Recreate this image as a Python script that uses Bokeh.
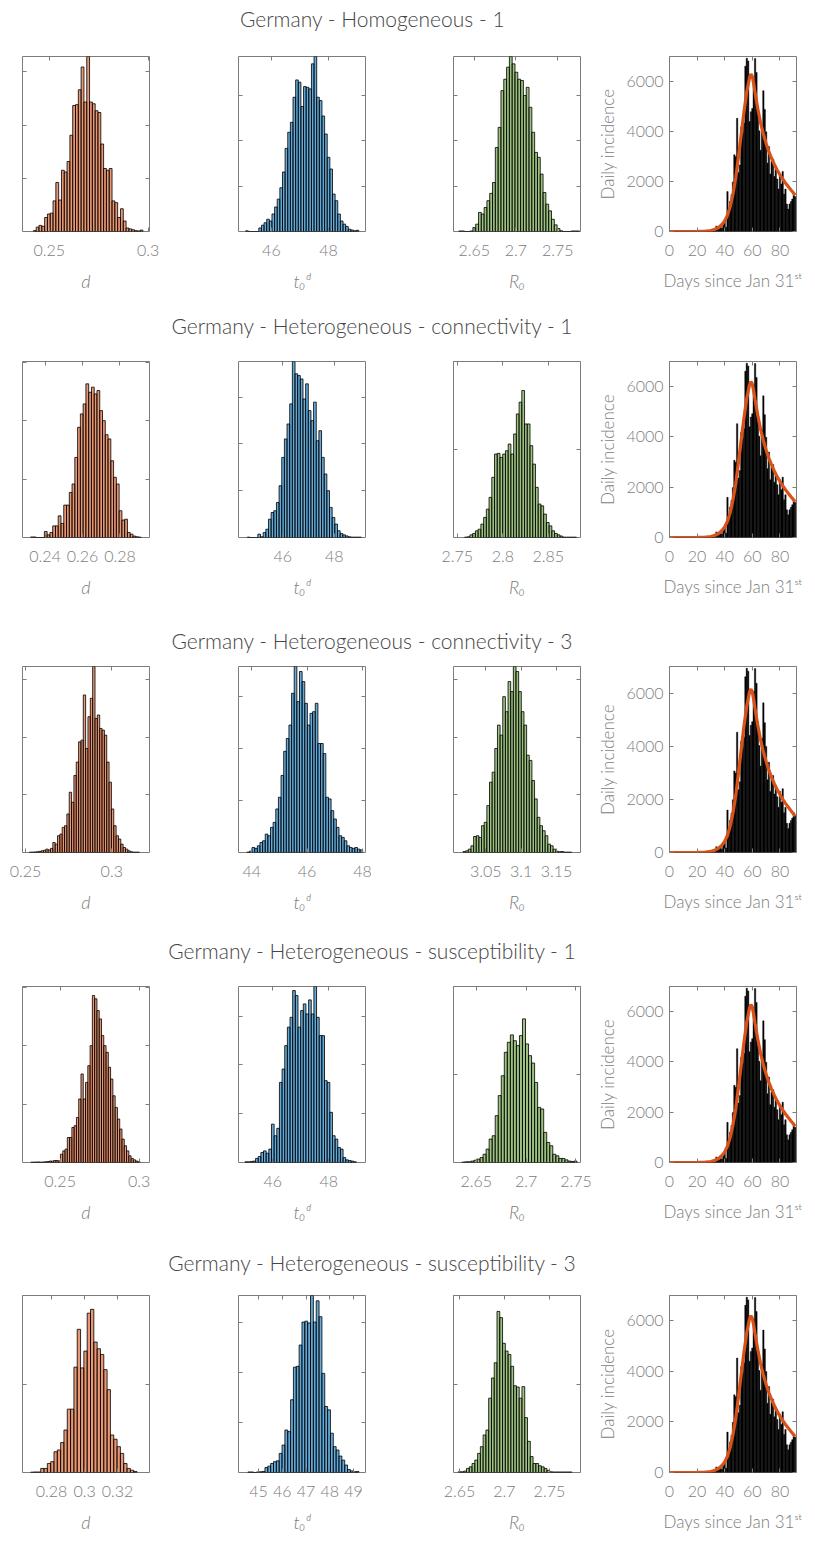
from bokeh.plotting import figure
from bokeh.layouts import column, row
from bokeh.models import Range1d, FixedTicker, LinearAxis
from bokeh.embed import file_html
from bokeh.resources import INLINE
from bokeh.core.properties import value

# ---------------- data ----------------
titles = [
    "Germany - Homogeneous - 1",
    "Germany - Heterogeneous - connectivity - 1",
    "Germany - Heterogeneous - connectivity - 3",
    "Germany - Heterogeneous - susceptibility - 1",
    "Germany - Heterogeneous - susceptibility - 3",
]

# histogram of d (bin start, bin width, heights in % of axis height)
d_start = [0.2420, 0.2322, 0.2522, 0.2315, 0.2674]
d_width = [0.00142, 0.00148, 0.00136, 0.00144, 0.00201]
d_h1 = [0.5, 2.5, 3.5, 3, 8, 10, 10.5, 17.5, 28, 18, 35, 34, 40, 55, 72, 72.5, 81, 94, 74, 100,
        74, 73, 69, 68, 50, 36, 35, 36, 17.5, 16.5, 8, 13, 6, 2, 1.5, 1, 0.5, 0.3, 0.8]
d_h2 = [0.3, 0.3, 0, 0, 0, 3.4, 1.5, 2.8, 6.6, 6.6, 12.3, 8, 18.4, 18.4, 25.6, 30.4, 45.5, 62.6,
        70.2, 75.9, 87.3, 82.5, 85.4, 81.6, 83.5, 72.1, 66.4, 58.4, 56, 43.6, 34.2, 30.4, 15.2,
        9.9, 10.4, 2.8, 1.9, 0.8, 0.4, 0.2]
d_h3 = [0.2, 0.2, 0.3, 0.4, 0.6, 0.9, 1.2, 1.8, 1.4, 2.2, 5.4, 4.5, 9, 9.9, 13.5, 14.4, 20.7,
        32.4, 27, 41.4, 48.6, 59.5, 60.4, 84.7, 55.9, 73, 82.9, 100, 72.1, 73.9, 66.7, 65.8,
        63.1, 48.6, 37.8, 23.4, 14.4, 9, 7.2, 4.5, 2.7, 1.8, 0.9, 0.4, 0.2, 0.2, 0.2]
d_h4 = [0.2, 0.2, 0.3, 0.3, 0.2, 0.3, 0.4, 0.5, 0.8, 0.8, 1.1, 1.1, 0.9, 4.7, 6.6, 7.6, 14.2,
        14.2, 19.9, 20.9, 25.6, 36.1, 50.3, 36.1, 45.5, 55, 66.4, 94.9, 93, 86.3, 81.6, 72.1,
        66.4, 62.6, 54.1, 47.4, 37.9, 31.3, 24.7, 19, 13.3, 9.5, 6.6, 3.8, 2.3, 1.5, 0.8, 0.4]
d_h5 = [0.2, 0.3, 0.3, 2.3, 2.3, 5.1, 6.1, 11.7, 12.7, 16.9, 24, 35.8, 35.8, 59.5, 80.9, 59.1,
        68.6, 90, 92.2, 73.7, 69.9, 66.7, 58.1, 46.8, 21.2, 18.8, 14.6, 10.8, 5.1, 2.3, 1.3, 0.6]
d_heights = [d_h1, d_h2, d_h3, d_h4, d_h5]

# histogram of t0^d
t0_start = [45.10, 44.62, 43.82, 45.01, 44.55]
t0_width = [0.092, 0.103, 0.0952, 0.0946, 0.12]
t0_h1 = [0.4, 0, 0, 0, 0, 2, 3.6, 5, 7, 6, 10, 14, 18.5, 25, 34, 47.5, 56.7, 62.4, 76.7, 86.6,
         85.3, 71.4, 82.8, 82.4, 81.5, 95.8, 100, 76.7, 74.8, 66, 55.7, 42.4, 35.7, 21.4, 17.6,
         10, 6, 4.2, 2.9, 1.3, 0.8, 0.4, 0.7]
t0_h2 = [0.2, 0, 0, 0, 1.9, 0.4, 2.8, 4.7, 10.4, 14.2, 15.2, 19.9, 29.4, 45.5, 56, 64.5, 75.9,
         100, 93, 92, 90.1, 78.7, 87.3, 72.1, 66.4, 76.9, 55, 60.7, 45.5, 36.1, 26.6, 17.1, 11.4,
         7.6, 3.8, 2.3, 1.5, 0.9, 0.4, 0.2, 0.2, 0.2, 0.2]
t0_h3 = [0.2, 0.7, 2.7, 2.2, 3.6, 5.4, 6.3, 9.9, 9, 13.5, 16.2, 23.4, 29.7, 41.4, 54.4, 61.3,
         68.5, 85.6, 100, 81.1, 97.3, 91.9, 80.2, 68.5, 74.8, 75.7, 80.2, 58.6, 58.6, 53.2, 29.7,
         28.8, 22.5, 18, 13.5, 9, 8.1, 6.3, 3.6, 2.7, 2.2, 2.7, 1.8, 1.4]
t0_h4 = [0.4, 0.4, 0.6, 0.8, 2.3, 3.4, 5.7, 6.6, 5.3, 7.6, 21.8, 15.2, 19.4, 45.5, 53.1, 66.4,
         76.9, 82.5, 97.7, 94.9, 76.9, 86.3, 90.1, 84.4, 92.4, 84.4, 100, 82.5, 72.1, 72.1, 46.5,
         45.5, 28.5, 15.2, 13.3, 8.5, 7.6, 2.8, 1.5, 1.1, 0.8, 0.4]
t0_h5 = [0.3, 0.3, 0, 0.3, 0.4, 0.6, 2.8, 3.6, 5.1, 6.1, 6.6, 10.8, 15.5, 24, 23.1, 41.1, 59.5,
         60, 72, 85, 85.5, 84.5, 100, 85, 97, 88, 56, 37.3, 35.4, 22.2, 14.6, 12.7, 9.3, 7, 4.2,
         1.7, 0.9, 0.4, 0.6]
t0_heights = [t0_h1, t0_h2, t0_h3, t0_h4, t0_h5]

# histogram of R0
r0_start = [2.6316, 2.7579, 3.0179, 2.6356, 2.6485]
r0_width = [0.00336, 0.0030, 0.00374, 0.00304, 0.003086]
r0_h1 = [0.3, 0.3, 0, 0, 0.3, 2.3, 4.2, 10.9, 10, 13.7, 17.6, 21.8, 28, 48, 59.5, 80.5, 87, 93.9,
         100, 95.8, 91, 87, 86.3, 77.7, 82.4, 71, 56.7, 45.2, 42.4, 32.8, 22.3, 15.6, 11.8, 7,
         3.8, 1.7, 0.4, 0, 0, 0, 0.3, 0.3, 0.3]
r0_h2 = [0.2, 0.4, 1.5, 2.3, 3.8, 4.7, 7.6, 11.4, 16.1, 22.8, 34.2, 47.4, 47.8, 45.5, 47.4, 49.3,
         53.1, 47.4, 58.8, 70.2, 76.9, 83.5, 64.5, 64.5, 52.2, 41.7, 28.5, 19, 18, 13.3, 8.5, 6.6,
         3.8, 2.3, 1.5, 0.8, 0.2, 0.2, 0.2, 0.2, 0.2]
r0_h3 = [0.5, 0.9, 1.8, 3.6, 8.6, 9, 8.1, 14.4, 16.2, 25.2, 37.8, 43.2, 55.9, 68.5, 63.1, 83.8,
         75.7, 91.9, 86.5, 100, 97.3, 86.5, 75.7, 68.5, 52.3, 49.5, 38.7, 28.8, 18.9, 14.4, 11.7,
         9, 4.5, 3.6, 1.8, 0.7, 0.4, 0.5, 0.2, 0.2, 0.2]
r0_h4 = [0.2, 0.4, 0.4, 0.8, 1.3, 1.9, 2.8, 4.7, 7.6, 13.3, 15.2, 26.6, 38, 49.3, 62.6, 68.3,
         72.5, 69.2, 66.4, 72.1, 81.6, 67.4, 60.7, 56.5, 45.5, 31.3, 30.4, 17.1, 11.4, 9.5, 4.7,
         3.8, 2.3, 2.3, 1.5, 0.8, 0.6, 0.8]
r0_h5 = [0.4, 0.4, 0.8, 2.3, 3.2, 5.1, 7, 10.8, 14.6, 21.2, 24, 42, 53.4, 62, 91, 87.5, 73,
         68.6, 66.7, 60, 49, 48.3, 42, 48.5, 31, 17.6, 9, 5.1, 5.1, 3.8, 3.2, 2.3, 1.2, 0.4, 0.3,
         0.3, 0.3, 0.3, 0.3, 0.3, 0.3]
r0_heights = [r0_h1, r0_h2, r0_h3, r0_h4, r0_h5]

# axis limits and tick labels of the histograms
d_xlim = [(0.2365, 0.3007), (0.2279, 0.2958), (0.2482, 0.3219), (0.2262, 0.3065), (0.2624, 0.3393)]
t0_xlim = [(44.85, 49.29), (44.28, 49.21), (43.52, 48.11), (44.78, 49.31), (44.155, 49.507)]
r0_xlim = [(2.6252, 2.7772), (2.7458, 2.8854), (3.0045, 3.1837), (2.6272, 2.7546), (2.6433, 2.7846)]
d_ticks = [[0.25, 0.3], [0.24, 0.26, 0.28], [0.25, 0.3], [0.25, 0.3], [0.28, 0.3, 0.32]]
t0_ticks = [[46, 48], [46, 48], [44, 46, 48], [46, 48], [45, 46, 47, 48, 49]]
r0_ticks = [[2.65, 2.7, 2.75], [2.75, 2.8, 2.85], [3.05, 3.1, 3.15], [2.65, 2.7, 2.75], [2.65, 2.7, 2.75]]
d_ystep = [30.4, 33.2, 31, 33.2, 50]
t0_ystep = [26, 26.6, 28, 27.7, 28.2]
r0_ystep = [26, 50, 31, 50, 50]

# daily incidence (days since Jan 31st)
days = list(range(92))
incidence = [0, 1, 0, 0, 0, 0, 2, 0, 1, 0,
             0, 0, 0, 0, 0, 0, 0, 0, 0, 0,
             0, 0, 0, 0, 0, 1, 1, 8, 21, 31,
             51, 29, 37, 66, 220, 188, 129, 241, 136, 281,
             451, 170, 1597, 910, 1210, 1477, 1985, 3070, 2993, 4528,
             2365, 2660, 4183, 3930, 4337, 6615, 6933, 6824, 4400, 4790,
             4923, 6064, 6922, 6365, 4933, 4031, 3251, 4289, 5633, 4885,
             3990, 2737, 3400, 2300, 2800, 2900, 2200, 2500, 2100, 1700,
             2300, 1900, 2400, 1500, 1700, 1100, 900, 1100, 1200, 1300, 1500, 1400]

# fitted curves
curve_days = [0, 10, 20, 25, 30, 33, 36, 38, 40, 42, 44, 46, 48, 50, 52, 54, 56, 58, 59, 60, 61,
              62, 64, 66, 68, 70, 72, 74, 76, 78, 80, 82, 84, 86, 88, 90, 91]
fit1 = [0, 0, 2, 8, 40, 90, 180, 280, 420, 650, 1000, 1500, 2150, 3000, 3900, 4800, 5600, 6150,
        6300, 6200, 5900, 5550, 4900, 4350, 3900, 3520, 3200, 2920, 2680, 2460, 2270, 2100, 1940,
        1800, 1660, 1530, 1450]
fit2 = [0, 0, 2, 8, 40, 90, 180, 280, 420, 650, 1000, 1500, 2150, 3000, 3900, 4780, 5550, 6080,
        6200, 6100, 5820, 5480, 4850, 4300, 3860, 3480, 3160, 2880, 2640, 2420, 2230, 2060, 1900,
        1760, 1620, 1490, 1420]
fit3 = [0, 0, 2, 8, 40, 90, 180, 280, 420, 650, 1000, 1500, 2150, 3000, 3900, 4780, 5520, 6050,
        6150, 6040, 5750, 5400, 4780, 4230, 3800, 3420, 3100, 2820, 2580, 2370, 2180, 2010, 1850,
        1710, 1570, 1440, 1370]
fit4 = [0, 0, 2, 8, 40, 90, 180, 280, 420, 650, 1000, 1500, 2150, 3000, 3900, 4800, 5600, 6150,
        6280, 6180, 5880, 5530, 4890, 4340, 3890, 3510, 3190, 2910, 2670, 2450, 2260, 2090, 1930,
        1790, 1650, 1520, 1440]
fit5 = [0, 0, 2, 8, 40, 90, 180, 280, 420, 650, 1000, 1500, 2150, 3000, 3900, 4780, 5550, 6080,
        6200, 6100, 5820, 5480, 4850, 4300, 3860, 3480, 3160, 2880, 2640, 2420, 2230, 2060, 1900,
        1760, 1620, 1490, 1420]
fits = [fit1, fit2, fit3, fit4, fit5]
inc_xticks = [0, 20, 40, 60, 80]
inc_yticks = [0, 2000, 4000, 6000]

# ---------------- style ----------------
FONT = "Lato Light, Lato"
GRAY = "#7c7c7c"
TITLE_COLOR = "#454545"
ORANGE = "#D95319"
BLUE = "#0072BD"
GREEN = "#5E9A2E"

col_w = [223, 215, 154, 223]
col_lb = [22, 15, 15, 77]
col_rb = [74, 73, 12, 19]
title_h = 36
row_h = [271, 279, 274, 276, 264]
row_tb = [20, 18, 8, 18, 15]
frame_h = [175, 176, 186, 176, 177]


def style_axis(ax, ticks, labels=True, overrides=None, standoff=8):
    ax.ticker = FixedTicker(ticks=ticks)
    ax.major_tick_in = 4
    ax.major_tick_out = 0
    ax.minor_tick_line_color = None
    ax.axis_line_color = None
    ax.major_tick_line_color = GRAY
    ax.major_label_text_font = FONT
    if labels:
        ax.major_label_text_color = GRAY
        ax.major_label_text_font_size = "16px"
        ax.major_label_standoff = standoff
    else:
        ax.major_label_text_color = None
        ax.major_label_standoff = 0
    if overrides:
        ax.major_label_overrides = overrides


def set_label(ax, text, italic=True, size="18px", standoff=10):
    ax.axis_label = text
    ax.axis_label_text_font = FONT
    ax.axis_label_text_font_size = size
    ax.axis_label_text_color = GRAY
    ax.axis_label_text_font_style = "italic" if italic else "normal"
    ax.axis_label_standoff = standoff


def base_fig(ci, ri, xr, yr):
    p = figure(width=col_w[ci], height=row_h[ri], x_range=Range1d(*xr), y_range=Range1d(*yr),
               toolbar_location=None, output_backend="svg",
               min_border_left=col_lb[ci], min_border_right=col_rb[ci],
               min_border_top=row_tb[ri],
               min_border_bottom=row_h[ri] - row_tb[ri] - frame_h[ri])
    p.grid.visible = False
    p.outline_line_color = GRAY
    p.outline_line_width = 1
    p.background_fill_color = "white"
    p.border_fill_color = "white"
    p.add_layout(LinearAxis(), "above")
    p.add_layout(LinearAxis(), "right")
    return p


def hist_fig(ci, ri, start, width, heights, xlim, ticks, ystep, color, label):
    p = base_fig(ci, ri, xlim, (0, 100))
    lefts = [start + i * width for i in range(len(heights))]
    rights = [start + (i + 1) * width for i in range(len(heights))]
    p.quad(left=lefts, right=rights, bottom=0, top=heights, fill_color=color, fill_alpha=0.6,
           line_color="black", line_width=0.9, line_alpha=0.9)
    ov = {t: f"{t:g}" for t in ticks}
    style_axis(p.below[0], ticks, True, ov, standoff=13)
    style_axis(p.above[0], ticks, False)
    yt = [ystep * k for k in range(1, int(100 // ystep) + 1)]
    style_axis(p.left[0], yt, False)
    style_axis(p.right[0], yt, False)
    set_label(p.below[0], label, italic=True, size="18px", standoff=11)
    return p


def inc_fig(ri, fit):
    p = base_fig(3, ri, (0, 92), (0, 7000))
    p.vbar(x=days, top=incidence, width=1.0, fill_color="black", line_color="black",
           line_width=0.4)
    p.line(curve_days, fit, line_color=ORANGE, line_width=3.2)
    style_axis(p.below[0], inc_xticks, True, standoff=13)
    style_axis(p.above[0], inc_xticks, False)
    style_axis(p.left[0], inc_yticks, True, standoff=6)
    style_axis(p.right[0], inc_yticks, False)
    set_label(p.below[0], "Days since Jan 31ˢᵗ", italic=False, size="17px", standoff=11)
    set_label(p.left[0], "Daily incidence", italic=False, size="17px", standoff=5)
    return p


def title_fig(text):
    p = figure(width=815, height=title_h, x_range=Range1d(0, 815), y_range=Range1d(0, title_h),
               toolbar_location=None, output_backend="svg", min_border=0)
    p.axis.visible = False
    p.grid.visible = False
    p.outline_line_color = None
    p.text(x=[372], y=[18], text=[text], text_font=value(FONT), text_font_size="21px",
           text_color=TITLE_COLOR, text_align="center", text_baseline="middle")
    return p


children = []
for ri in range(5):
    children.append(title_fig(titles[ri]))
    f1 = hist_fig(0, ri, d_start[ri], d_width[ri], d_heights[ri], d_xlim[ri], d_ticks[ri],
                  d_ystep[ri], ORANGE, "d")
    f2 = hist_fig(1, ri, t0_start[ri], t0_width[ri], t0_heights[ri], t0_xlim[ri], t0_ticks[ri],
                  t0_ystep[ri], BLUE, "t₀ᵈ")
    f3 = hist_fig(2, ri, r0_start[ri], r0_width[ri], r0_heights[ri], r0_xlim[ri], r0_ticks[ri],
                  r0_ystep[ri], GREEN, "R₀")
    f4 = inc_fig(ri, fits[ri])
    children.append(row(f1, f2, f3, f4, spacing=0))

layout = column(*children, spacing=0)

open("out.html", "w").write(file_html(layout, INLINE))
